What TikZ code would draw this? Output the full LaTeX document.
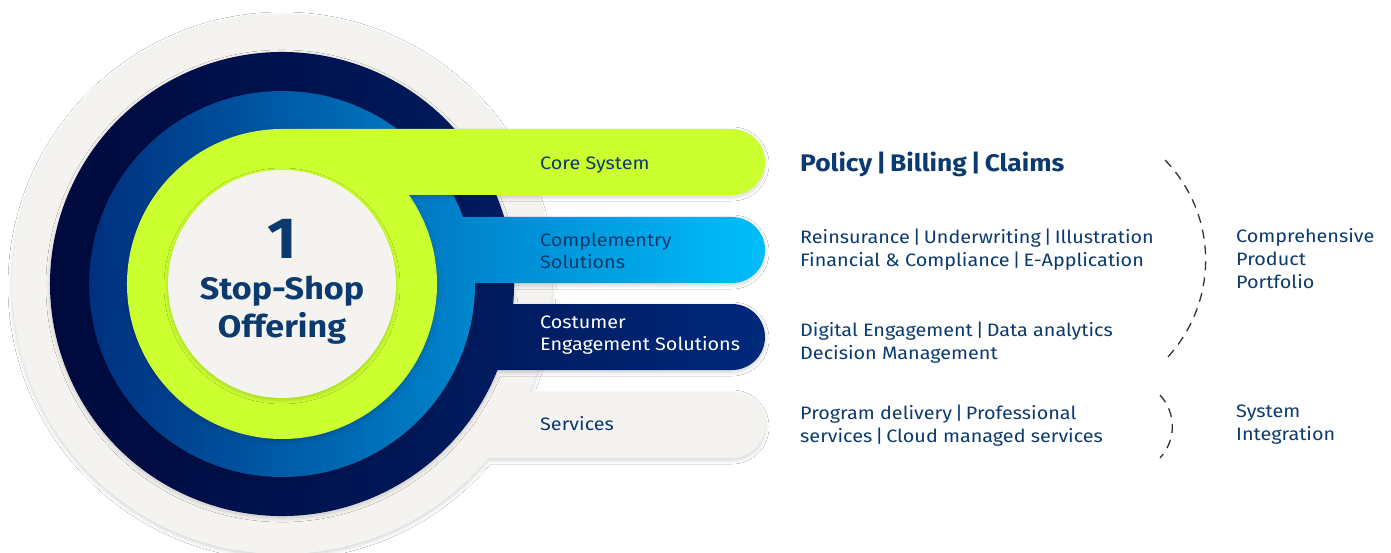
\documentclass[tikz,border=0pt]{standalone}
\usepackage{fontspec}
\setmainfont[FakeStretch=1.1]{Fira Sans}
\usepackage{tikz}
\usetikzlibrary{shadows.blur}
\definecolor{paper}{HTML}{F4F3F0}
\definecolor{navyA}{HTML}{00083A}
\definecolor{navyB}{HTML}{001B5E}
\definecolor{navyC}{HTML}{00297C}
\definecolor{blueA}{HTML}{002F7E}
\definecolor{blueB}{HTML}{0086CE}
\definecolor{blueC}{HTML}{00BEFA}
\definecolor{lime}{HTML}{CBFF30}
\definecolor{ink}{HTML}{0B3A6F}
\definecolor{dashgray}{HTML}{333333}
\pgfdeclarehorizontalshading{navyshade}{100bp}{color(0bp)=(navyA); color(25bp)=(navyA); color(57bp)=(navyB); color(75bp)=(navyC); color(100bp)=(navyC)}
\pgfdeclarehorizontalshading{blueshade}{100bp}{color(0bp)=(blueA); color(25bp)=(blueA); color(53.5bp)=(blueB); color(75bp)=(blueC); color(100bp)=(blueC)}
\tikzstyle{layer} = [blur shadow={shadow xshift=0pt,shadow yshift=-2pt,shadow blur radius=4pt,shadow blur steps=10,shadow opacity=18}]
\tikzstyle{barlabel} = [anchor=west, align=left, inner sep=0pt, font=\fontsize{18}{22}\selectfont]
\tikzstyle{desc} = [anchor=west, align=left, inner sep=0pt, text=ink, font=\fontsize{18}{23}\selectfont]
\tikzstyle{bracket} = [line width=1.3pt, dashgray, dash pattern=on 9pt off 7pt]

\begin{document}
\begin{tikzpicture}[x=1pt,y=-1pt]
	\fill[white] (0,0) rectangle (1391,553);
	\useasboundingbox (0,0) rectangle (1391,553);
	% rings with their bars, outside in
	\path[layer,fill=paper] (529.5,392) -- (732,392) arc[start angle=-90,end angle=90,radius=33] -- (488.5,458) arc[start angle=40.12,end angle=383.57,radius=270] -- cycle;
	\path[layer,shading=navyshade] (513.1,304) -- (732,304) arc[start angle=-90,end angle=90,radius=33] -- (497.5,370) arc[start angle=21.76,end angle=364.95,radius=232] -- cycle;
	\path[layer,shading=blueshade] (463,217) -- (732,217) arc[start angle=-90,end angle=90,radius=33] -- (475,283) arc[start angle=-0.3,end angle=339.69,radius=193] -- cycle;
	\path[layer,fill=lime] (282,129) -- (732,129) arc[start angle=-90,end angle=90,radius=33] -- (408.9,195) arc[start angle=-35.04,end angle=270,radius=155] -- cycle;
	\path[layer,fill=paper] (282,284) circle[radius=114];
	% centre
	\node[text=ink, font=\bfseries\fontsize{58}{58}\selectfont] (one) at (282,239) {1};
	\node[text=ink, align=center, font=\bfseries\fontsize{31}{38}\selectfont] (offer) at (282,310) {Stop-Shop\\Offering};
	% bar labels
	\node[barlabel, text=ink] (core) at (540,165) {Core System};
	\node[barlabel, text=ink] (compl) at (540,251) {Complementry\\Solutions};
	\node[barlabel, text=white] (cust) at (540,335) {Costumer\\Engagement Solutions};
	\node[barlabel, text=ink] (serv) at (540,424) {Services};
	% products
	\node[desc, font=\bfseries\fontsize{24}{28}\selectfont] (policy) at (800,164) {Policy\,|\,Billing\,|\,Claims};
	\node[desc] (reins) at (800,250) {Reinsurance\,|\,Underwriting\,|\,Illustration\\Financial \& Compliance\,|\,E-Application};
	\node[desc] (digital) at (800,343) {Digital Engagement\,|\,Data analytics\\Decision Management};
	\node[desc] (program) at (800,426) {Program delivery\,|\,Professional\\services\,|\,Cloud managed services};
	\node[desc] (portfolio) at (1236,259) {Comprehensive\\Product\\Portfolio};
	\node[desc] (integration) at (1236,425) {System\\Integration};
	% brackets
	\coordinate (bigtop) at (1165,160);
	\coordinate (bigbot) at (1165,360);
	\coordinate (smalltop) at (1160,395);
	\coordinate (smallbot) at (1160,458);
	\draw[bracket] (bigtop) to[bend left=44] (bigbot);
	\draw[bracket] (smalltop) to[bend left=42] (smallbot);
\end{tikzpicture}
\end{document}
